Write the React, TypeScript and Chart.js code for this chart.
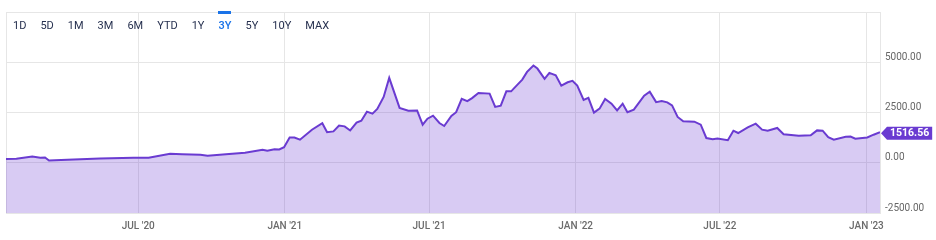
import React, { useEffect, useRef } from "react";
import { Chart, registerables } from "chart.js";

Chart.register(...registerables);

const dates = [
  "2020-01-17", "2020-01-30", "2020-02-19", "2020-02-29", "2020-03-06", "2020-03-11", "2020-04-03", "2020-05-14",
  "2020-06-25", "2020-07-14", "2020-08-10", "2020-08-25", "2020-09-17", "2020-09-26", "2020-10-23", "2020-11-12",
  "2020-12-04", "2020-12-10", "2020-12-19", "2020-12-25", "2020-12-31", "2021-01-07", "2021-01-13", "2021-01-20",
  "2021-02-04", "2021-02-17", "2021-02-23", "2021-03-03", "2021-03-10", "2021-03-17", "2021-03-24", "2021-04-01",
  "2021-04-07", "2021-04-14", "2021-04-21", "2021-04-27", "2021-05-05", "2021-05-12", "2021-05-25", "2021-06-05",
  "2021-06-16", "2021-06-23", "2021-06-29", "2021-07-06", "2021-07-14", "2021-07-20", "2021-07-29", "2021-08-04",
  "2021-08-11", "2021-08-18", "2021-08-24", "2021-09-01", "2021-09-15", "2021-09-22", "2021-09-29", "2021-10-06",
  "2021-10-12", "2021-10-20", "2021-10-26", "2021-11-01", "2021-11-09", "2021-11-14", "2021-11-23", "2021-11-29",
  "2021-12-07", "2021-12-14", "2021-12-22", "2021-12-28", "2022-01-03", "2022-01-11", "2022-01-17", "2022-01-24",
  "2022-01-31", "2022-02-07", "2022-02-15", "2022-02-22", "2022-03-01", "2022-03-07", "2022-03-15", "2022-03-28",
  "2022-04-04", "2022-04-12", "2022-04-19", "2022-04-26", "2022-05-02", "2022-05-09", "2022-05-16", "2022-05-30",
  "2022-06-07", "2022-06-14", "2022-06-22", "2022-06-28", "2022-07-11", "2022-07-18", "2022-07-24", "2022-08-05",
  "2022-08-15", "2022-08-23", "2022-08-30", "2022-09-11", "2022-09-19", "2022-10-08", "2022-10-23", "2022-10-31",
  "2022-11-07", "2022-11-14", "2022-11-21", "2022-12-06", "2022-12-12", "2022-12-18", "2023-01-02", "2023-01-10",
  "2023-01-18",
];

const values = [
  184, 199, 314, 249, 264, 115, 150, 214,
  249, 249, 449, 424, 399, 349, 434, 499,
  648, 598, 673, 658, 773, 1261, 1256, 1147,
  1645, 1969, 1520, 1560, 1854, 1810, 1605, 1994,
  2094, 2542, 2443, 2677, 3275, 4222, 2727, 2592,
  2602, 1894, 2193, 2343, 1979, 1829, 2328, 2517,
  3180, 3066, 3215, 3475, 3440, 2777, 2841, 3554,
  3554, 3888, 4138, 4521, 4835, 4686, 4172, 4472,
  4352, 3838, 4003, 4073, 3838, 3126, 3225, 2493,
  2692, 3175, 2941, 2607, 2941, 2517, 2642, 3340,
  3539, 3016, 3066, 3006, 2856, 2278, 2059, 2044,
  1894, 1231, 1166, 1211, 1122, 1595, 1480, 1760,
  1944, 1645, 1595, 1730, 1421, 1346, 1371, 1610,
  1595, 1271, 1147, 1296, 1306, 1196, 1261, 1396,
  1516.56,
];

const xMinDate = "2020-01-17";
const xMaxDate = "2023-01-18";
const xTickDates = ["2020-07-01", "2021-01-01", "2021-07-01", "2022-01-01", "2022-07-01", "2023-01-01"];
const xTickLabels = ["JUL '20", "JAN '21", "JUL '21", "JAN '22", "JUL '22", "JAN '23"];
const yTicks = [-2500, 0, 2500, 5000, 7500];
const yHiddenTick = 7500;
const rangeTabs = ["1D", "5D", "1M", "3M", "6M", "YTD", "1Y", "3Y", "5Y", "10Y", "MAX"];
const activeTab = "3Y";
const lastValueLabel = "1516.56";

const LINE = "#6a3bd1";
const FILL = "rgba(106,54,208,0.26)";
const GRID = "#e6e6e6";

const toDay = (s: string) => {
  const [y, m, d] = s.split("-").map(Number);
  return Date.UTC(y, m - 1, d) / 86400000;
};

export default function App() {
  const ref = useRef<HTMLCanvasElement | null>(null);

  useEffect(() => {
    document.body.style.margin = "0";
    const canvas = ref.current;
    if (!canvas) return;

    const points = dates.map((d, i) => ({ x: toDay(d), y: values[i] }));
    const tickDays = xTickDates.map(toDay);

    const framePlugin = {
      id: "frame",
      beforeDatasetsDraw(chart: any) {
        const { ctx, chartArea } = chart;
        ctx.save();
        ctx.strokeStyle = GRID;
        ctx.lineWidth = 1;
        ctx.strokeRect(
          Math.round(chartArea.left) + 0.5,
          Math.round(chartArea.top) + 0.5,
          Math.round(chartArea.right - chartArea.left),
          Math.round(chartArea.bottom - chartArea.top)
        );
        ctx.restore();
      },
    };

    const tagPlugin = {
      id: "lastTag",
      afterDraw(chart: any) {
        const { ctx, chartArea } = chart;
        const meta = chart.getDatasetMeta(0);
        const pt = meta.data[meta.data.length - 1];
        if (!pt) return;
        const y = pt.y + 1;
        const x0 = chartArea.right + 1;
        const h = 13;
        ctx.save();
        ctx.font = "bold 10.5px Roboto";
        const tw = ctx.measureText(lastValueLabel).width;
        const w = tw + 6;
        ctx.fillStyle = LINE;
        ctx.beginPath();
        ctx.moveTo(x0, y);
        ctx.lineTo(x0 + 6, y - h / 2);
        ctx.lineTo(x0 + 6 + w, y - h / 2);
        ctx.lineTo(x0 + 6 + w, y + h / 2);
        ctx.lineTo(x0 + 6, y + h / 2);
        ctx.closePath();
        ctx.fill();
        ctx.fillStyle = "#ffffff";
        ctx.textAlign = "center";
        ctx.textBaseline = "middle";
        ctx.fillText(lastValueLabel, x0 + 6 + w / 2, y + 0.5);
        ctx.restore();
      },
    };

    const chart = new Chart(canvas, {
      type: "line",
      data: {
        datasets: [
          {
            data: points,
            borderColor: LINE,
            backgroundColor: FILL,
            borderWidth: 2,
            pointRadius: 0,
            fill: "start",
            tension: 0,
          },
        ],
      },
      options: {
        animation: false,
        responsive: false,
        maintainAspectRatio: false,
        layout: { padding: { left: 6, top: 12, right: 0, bottom: 0 } },
        plugins: { legend: { display: false }, tooltip: { enabled: false } },
        scales: {
          x: {
            type: "linear",
            min: toDay(xMinDate),
            max: toDay(xMaxDate),
            afterBuildTicks: (scale: any) => {
              scale.ticks = tickDays.map((v) => ({ value: v }));
            },
            afterFit: (scale: any) => {
              scale.height = 27;
            },
            grid: { color: GRID, drawTicks: false },
            border: { display: false },
            ticks: {
              padding: 7,
              maxRotation: 0,
              autoSkip: false,
              color: "#6b6b6b",
              font: { family: "Roboto", size: 10, weight: "500" },
              callback: (v: any) => {
                const i = tickDays.indexOf(Number(v));
                return i >= 0 ? xTickLabels[i] : "";
              },
            },
          },
          y: {
            position: "right",
            min: -2500,
            max: 7500,
            afterBuildTicks: (scale: any) => {
              scale.ticks = yTicks.map((v) => ({ value: v }));
            },
            afterFit: (scale: any) => {
              scale.width = 56;
            },
            grid: { color: GRID, drawTicks: false },
            border: { display: false },
            ticks: {
              padding: 5,
              labelOffset: -5,
              color: "#666666",
              font: { family: "Roboto", size: 10 },
              callback: (v: any) => (Number(v) === yHiddenTick ? "" : Number(v).toFixed(2)),
            },
          },
        },
      },
      plugins: [framePlugin, tagPlugin],
    } as any);

    return () => chart.destroy();
  }, []);

  return (
    <div style={{ position: "relative", width: 936, height: 240, fontFamily: "Roboto" }}>
      <canvas ref={ref} width={936} height={240} style={{ display: "block", width: 936, height: 240 }} />
      <div
        style={{
          position: "absolute",
          left: 13,
          top: 20,
          display: "flex",
          gap: "14px",
          fontSize: 11,
          lineHeight: "12px",
          fontFamily: "Roboto",
        }}
      >
        {rangeTabs.map((t) => (
          <span
            key={t}
            style={{
              position: "relative",
              color: t === activeTab ? "#1a73e8" : "#26304f",
              fontWeight: t === activeTab ? 500 : 400,
            }}
          >
            {t === activeTab && (
              <span style={{ position: "absolute", left: 0, right: 0, top: -9, height: 3, background: "#1a73e8" }} />
            )}
            {t}
          </span>
        ))}
      </div>
    </div>
  );
}
